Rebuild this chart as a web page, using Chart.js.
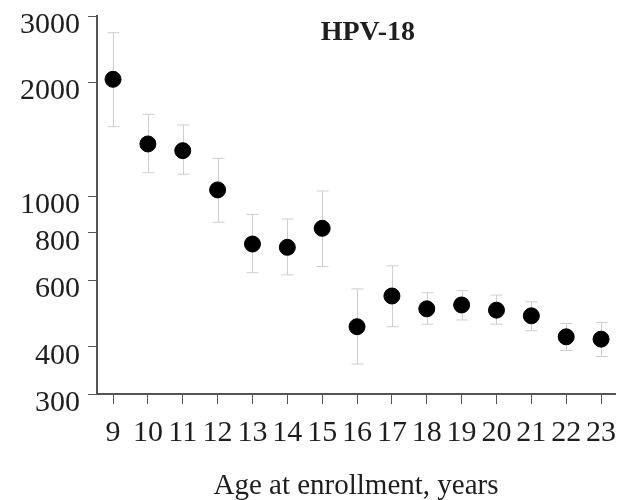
<!DOCTYPE html>
<html>
<head>
<meta charset="utf-8">
<script src="https://cdn.jsdelivr.net/npm/chart.js@4.4.1/dist/chart.umd.min.js"></script>
<style>
  html, body { margin: 0; padding: 0; background: #ffffff; }
  #wrap { width: 624px; height: 500px; }
</style>
</head>
<body>
<div id="wrap"><canvas id="c" width="624" height="500"></canvas></div>
<script>
// Geometric mean titres of anti-HPV-18 by age at enrollment, with 95% CI
const ages  = [9, 10, 11, 12, 13, 14, 15, 16, 17, 18, 19, 20, 21, 22, 23];
const gmt   = [2040, 1376, 1321, 1040, 748, 733, 823, 452, 545, 504, 516, 500, 483, 425, 419];
const ciHigh = [2710, 1648, 1545, 1261, 896, 871, 1033, 569, 655, 556, 563, 548, 526, 461, 464];
const ciLow  = [1529, 1155, 1144, 854, 628, 620, 652, 360, 452, 459, 471, 459, 441, 391, 377];
const yTickValues = [300, 400, 600, 800, 1000, 2000, 3000];
const panelTitle = 'HPV-18';
const xAxisTitle = 'Age at enrollment, years';

const SERIF = '"Liberation Serif", "Times New Roman", serif';
const TEXT = '#1e1e1e';
const AXIS = '#555555';

// Keep the plotting area fixed by the layout padding alone
function noLabelOverhang(scale) {
  scale.paddingLeft = 0;
  scale.paddingRight = 0;
  scale.paddingTop = 0;
  scale.paddingBottom = 0;
}

// Vertical confidence-interval whiskers with end caps
const ciBars = {
  id: 'ciBars',
  beforeDatasetsDraw(chart) {
    const { ctx, scales: { x, y } } = chart;
    ctx.save();
    ctx.strokeStyle = '#cfcfcf';
    ctx.lineWidth = 1;
    const cap = 6;
    ages.forEach((a, i) => {
      const px = Math.round(x.getPixelForValue(a)) + 0.5;
      const top = y.getPixelForValue(ciHigh[i]);
      const bot = y.getPixelForValue(ciLow[i]);
      ctx.beginPath();
      ctx.moveTo(px, top); ctx.lineTo(px, bot);
      ctx.moveTo(px - cap, top); ctx.lineTo(px + cap, top);
      ctx.moveTo(px - cap, bot); ctx.lineTo(px + cap, bot);
      ctx.stroke();
    });
    ctx.restore();
  }
};

// Panel label placed inside the plotting area
const panelLabel = {
  id: 'panelLabel',
  afterDraw(chart) {
    const { ctx, chartArea } = chart;
    ctx.save();
    ctx.font = 'bold 28px ' + SERIF;
    ctx.fillStyle = TEXT;
    ctx.textAlign = 'center';
    ctx.textBaseline = 'middle';
    ctx.fillText(panelTitle, chartArea.left + chartArea.width * 0.523, chartArea.top + 17);
    ctx.restore();
  }
};

new Chart(document.getElementById('c'), {
  type: 'scatter',
  data: {
    datasets: [{
      data: ages.map((a, i) => ({ x: a, y: gmt[i] })),
      backgroundColor: '#000000',
      borderColor: '#000000',
      pointRadius: 8,
      pointHoverRadius: 8,
      showLine: false
    }]
  },
  options: {
    responsive: false,
    animation: false,
    layout: { padding: { top: 16, right: 7, left: 0, bottom: 0 } },
    plugins: {
      legend: { display: false },
      tooltip: { enabled: false }
    },
    scales: {
      x: {
        type: 'linear',
        min: 8.54,
        max: 23.4,
        afterBuildTicks(scale) { scale.ticks = ages.map(v => ({ value: v })); },
        afterFit(scale) { scale.height = 106; noLabelOverhang(scale); },
        grid: { drawOnChartArea: false, drawTicks: true, tickLength: 10, color: AXIS, lineWidth: 1 },
        border: { display: true, color: AXIS, width: 2 },
        ticks: {
          autoSkip: false,
          maxRotation: 0,
          padding: 11,
          color: TEXT,
          font: { family: SERIF, size: 30 },
          callback: v => String(v)
        },
        title: {
          display: true,
          text: xAxisTitle,
          color: TEXT,
          font: { family: SERIF, size: 29, lineHeight: 0.95 },
          padding: { top: 0, bottom: 0 }
        }
      },
      y: {
        type: 'logarithmic',
        min: 300,
        max: 3000,
        afterBuildTicks(scale) { scale.ticks = yTickValues.map(v => ({ value: v })); },
        afterFit(scale) { scale.width = 97; noLabelOverhang(scale); },
        grid: { drawOnChartArea: false, drawTicks: true, tickLength: 9, color: AXIS, lineWidth: 1 },
        border: { display: true, color: AXIS, width: 2 },
        ticks: {
          autoSkip: false,
          padding: 8,
          labelOffset: 9,
          color: TEXT,
          font: { family: SERIF, size: 30, lineHeight: 0.8 },
          callback: v => String(v)
        }
      }
    }
  },
  plugins: [ciBars, panelLabel]
});
</script>
</body>
</html>
